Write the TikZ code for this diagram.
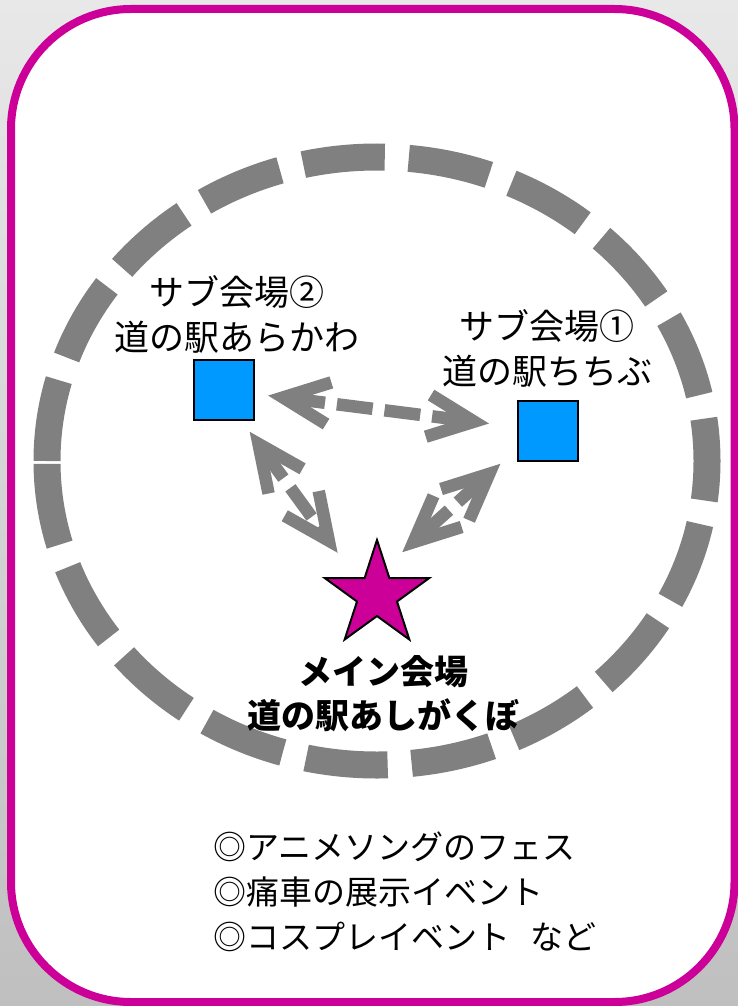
\documentclass[tikz,border=0pt]{standalone}
\usepackage{fontspec}
\setmainfont{Noto Sans CJK JP}
\usetikzlibrary{arrows.meta,shapes.geometric}
\definecolor{frame}{HTML}{CC0099}
\definecolor{venue}{HTML}{0099FF}
\definecolor{route}{HTML}{808080}

\begin{document}
\begin{tikzpicture}[x=1pt,y=-1pt,
  subvenue/.style={draw=black,line width=2.5pt,fill=venue,minimum size=60pt,inner sep=0pt},
  mainvenue/.style={star,star points=5,star point ratio=2.618,draw=black,line width=2pt,fill=frame,minimum size=110pt,inner sep=0pt},
  sitename/.style={align=center,inner sep=0pt,font=\fontsize{35}{45}\selectfont},
  link/.style={route,line width=12.5pt,dash pattern=on 36pt off 12pt,
    {Straight Barb[length=46pt,width=42pt]}-{Straight Barb[length=46pt,width=42pt]}}]
  \useasboundingbox (0,0) rectangle (738,1006);
  \shade[top color=black!9,bottom color=black!25] (0,0) rectangle (738,1006);
  % frame and ring
  \draw[frame,line width=8pt,fill=white,rounded corners=120pt] (11,9) rectangle (734.5,1002);
  \draw[route,line width=27pt,dash pattern=on 82pt off 24pt]
    (47,461) arc[start angle=180,end angle=540,x radius=330,y radius=304];
  % venues
  \node[subvenue] (arakawa) at (224,390) {};
  \node[subvenue] (chichibu) at (548,431) {};
  \node[mainvenue] (ashigakubo) at (377,595) {};
  \node[sitename] (arakawalbl) at (237,314) {サブ会場②\\道の駅あらかわ};
  \node[sitename] (chichibulbl) at (547,348) {サブ会場①\\道の駅ちちぶ};
  \node[sitename,font=\bfseries\fontsize{34}{44}\selectfont] (ashigakubolbl) at (383,694) {メイン会場\\道の駅あしがくぼ};
  % routes
  \draw[link,shorten <=13pt,shorten >=28pt] (arakawa) -- (chichibu);
  \draw[link,shorten <=13pt,shorten >=67pt] (arakawa.-60) -- ([yshift=-12pt]ashigakubo.center);
  \draw[link,shorten <=22pt,shorten >=34pt] (chichibu.-150) -- ([yshift=20pt]ashigakubo.center);
  % events
  \node[anchor=west,align=left,inner sep=0pt,font=\fontsize{33}{45}\selectfont] (events) at (213,892)
    {◎アニメソングのフェス\\◎痛車の展示イベント\\◎コスプレイベント\hspace{20pt}など};
\end{tikzpicture}
\end{document}
